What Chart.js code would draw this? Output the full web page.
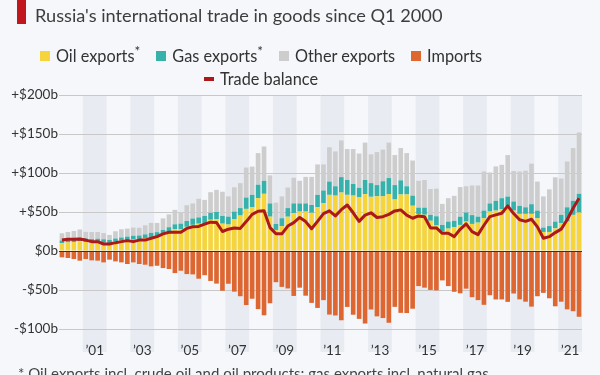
<!DOCTYPE html>
<html lang="en">
<head>
    <meta charset="utf-8">
    <title>Russia's international trade in goods</title>
    <script src="https://cdn.jsdelivr.net/npm/chart.js"></script>
    <style>
        body { margin: 0; background: #f5f7fa; font-family: Lato, "Open Sans", sans-serif; }
        .wrap { position: relative; width: 600px; height: 375px; overflow: hidden; }
        .mark { position: absolute; left: 17px; top: 0; width: 9px; height: 24px; background: #c0161d; }
        .title { position: absolute; left: 35px; top: 4px; font-size: 18.2px; color: #3d3d3d; white-space: nowrap; }
        .legend { position: absolute; left: 0; width: 522px; text-align: center; font-size: 16.3px; color: #333; white-space: nowrap; }
        .legend span { display: inline-block; margin: 0 8px; }
        .legend i { display: inline-block; width: 10px; height: 10px; margin-right: 6px; vertical-align: 1px; }
        .note { position: absolute; left: 18px; top: 364px; font-size: 15px; color: #444; white-space: nowrap; }
        canvas { position: absolute; left: 0; top: 0; }
    </style>
</head>
<body>
    <div class="wrap">
        <canvas id="tradeChart" width="600" height="375"></canvas>
        <div class="mark"></div>
        <div class="title">Russia's international trade in goods since Q1 2000</div>
        <div class="legend" id="legend1" style="top:43px"></div>
        <div class="legend" id="legend2" style="top:69px"></div>
        <div class="note">* Oil exports incl. crude oil and oil products; gas exports incl. natural gas</div>
    </div>

    <script>
        // quarterly values in billion US$, Q1 2000 - Q4 2021
        const years = [2000, 2001, 2002, 2003, 2004, 2005, 2006, 2007, 2008, 2009, 2010,
                       2011, 2012, 2013, 2014, 2015, 2016, 2017, 2018, 2019, 2020, 2021];
        const quarters = ['Q1', 'Q2', 'Q3', 'Q4'];
        const yearTicks = ['\u201901', '\u201903', '\u201905', '\u201907', '\u201909', '\u201911',
                           '\u201913', '\u201915', '\u201917', '\u201919', '\u201921'];

        const oilExports = [
            10, 11, 11.5, 12.5,   11.5, 11, 11.5, 10.5,   10, 12.5, 13.5, 14,   14.5, 15, 16.5, 18,
            19, 22, 25, 28,       28, 31, 33.5, 35,       35, 40, 41, 35,       34, 41, 45.5, 54,
            56, 67.7, 73.3, 44,   27, 32, 44, 48.4,       50.5, 50.5, 49, 56,   61.5, 72, 71, 75,
            72, 71, 68.7, 73,     69.5, 70.3, 70.3, 73,   66, 72.4, 72.5, 58,   47.5, 46.5, 38.8, 32.7,
            24.8, 28.7, 30.4, 33.4, 37.7, 34.7, 36.4, 42, 50.5, 51.8, 53.6, 57, 51.8, 47.6, 47.6, 47.6,
            42, 24.4, 24.4, 29,   35.6, 37.7, 46.3, 49.3
        ];
        const gasExports = [
            3.5, 3.8, 4, 4.5,     4.5, 4.3, 4.2, 4.5,     4.2, 3.5, 3.8, 4.5,   5, 4.8, 4.8, 5.2,
            5.2, 5, 5.5, 6.2,     7, 7.5, 8.1, 8,         10, 9, 9, 10,         10, 9.5, 9.5, 14.5,
            16, 17.3, 16.7, 17,   7.7, 10, 11, 12.6,      10.5, 10.5, 10, 16,   16, 17, 12, 19.7,
            19, 15, 12.3, 18,     17.5, 14.2, 19.1, 20.5, 18.5, 18.2, 10.5, 13, 8, 9, 7.5, 11.8,
            8.6, 9, 8.2, 10.6,    11.6, 11.3, 7.6, 9.8,   10.5, 12.5, 14.1, 12.8, 11.6, 10.2, 8.4, 12.4,
            9.8, 5.6, 7.6, 8.7,   10.7, 18.3, 18, 24
        ];
        const otherExports = [
            9.2, 9.6, 10.2, 10.6, 8.6, 9.1, 8.7, 8,       6.4, 9.3, 10.6, 10.2, 10.5, 10, 11.7, 12.8,
            11.8, 14.8, 16.5, 18.5, 15, 20.2, 19.4, 24,   20.5, 26.4, 28.4, 31, 26, 31.1, 32, 38.5,
            36.2, 40.5, 44, 36,   27.3, 28, 26.4, 33,     29, 34, 36, 39,       33.5, 44, 44.7, 47.1,
            39.7, 44.7, 44, 48,   37, 42.3, 40.6, 45.5,   38.5, 41.4, 42.5, 45, 34.5, 35.5, 33.2, 35.5,
            27, 30, 32.1, 38,     33.7, 38, 40, 50.2,     39.7, 44.1, 42.8, 53.2, 39.1, 44.2, 47, 52,
            37.2, 40, 47, 56.8,   46.7, 58.8, 67.7, 78.7
        ];
        const imports = [
            -8.1, -9, -10.3, -12.4,   -10.3, -12, -12.4, -14.6,   -11.1, -13.3, -14.6, -16.7,
            -14.6, -16.7, -17.6, -19.7, -18.9, -21.9, -23.1, -28.3, -25.3, -29.6, -30, -35.5,
            -31, -38.4, -41.8, -51,   -42, -52.1, -58, -69.3,     -61.2, -74.5, -82.4, -67,
            -40, -46, -48, -57.6,     -47, -57.3, -66.5, -73,     -63, -81.5, -82.7, -88.8,
            -71.7, -81.7, -87, -93,   -75, -83.8, -86, -92,       -71.6, -79.3, -79.5, -74,
            -45, -47, -49.9, -50.5,   -37.7, -45, -52.3, -54.2,   -48.3, -59.2, -63, -69,
            -56.7, -62.1, -62.1, -65.2, -54.5, -62, -65, -71.3,   -58, -53.7, -60.6, -70.9,
            -65, -74.8, -77.2, -84.3
        ];
        const tradeBalance = [
            14, 15, 15, 15.4,     14, 12, 12, 9,          9, 10.7, 12, 13.3,    12, 14, 14, 16.3,
            18.4, 21.9, 24, 24,   24, 29, 31, 31.5,       34.5, 37, 36.6, 25,   28, 29.5, 29, 37.7,
            47, 51, 51.6, 30,     22, 22, 32, 36.4,       43, 37.7, 28.5, 38,   48, 51.5, 45, 53,
            59, 49, 38, 46,       49, 43, 44, 47,         51.4, 52.7, 46, 42,   45, 44, 29.6, 29.5,
            22.7, 22.7, 18.4, 27.8, 34.7, 24.8, 21, 33,   44, 46.3, 48.4, 57.8, 48, 40, 38, 40.7,
            31, 16.3, 18.4, 23.6, 28, 40, 54.8, 67.7
        ];

        const categories = years.flatMap(y => quarters.map(q => q + ' ' + y));

        const colors = {
            oil: '#f5d53b',
            gas: '#36b2ab',
            other: '#cdcdcd',
            imports: '#dd6631',
            balance: '#ad1818'
        };

        // legend (html)
        const legendRows = [
            [['Oil exports<sup>*</sup>', colors.oil, 'box'], ['Gas exports<sup>*</sup>', colors.gas, 'box'],
             ['Other exports', colors.other, 'box'], ['Imports', colors.imports, 'box']],
            [['Trade balance', colors.balance, 'line']]
        ];
        legendRows.forEach((row, r) => {
            document.getElementById('legend' + (r + 1)).innerHTML = row.map(([t, c, k]) =>
                `<span><i style="background:${c};${k === 'line' ? 'height:4px;vertical-align:4px;' : ''}"></i>${t}</span>`
            ).join('');
        });

        const yearBands = {
            id: 'yearBands',
            beforeDraw(chart) {
                const { ctx, chartArea, scales: { x } } = chart;
                const slot = x.width / categories.length;
                ctx.save();
                ctx.fillStyle = '#e8ecf2';
                years.forEach((y, k) => {
                    if (y % 2 === 0) return;
                    const x0 = x.getPixelForValue(k * 4) - slot / 2;
                    const x1 = x.getPixelForValue(k * 4 + 3) + slot / 2;
                    ctx.fillRect(x0, chartArea.top, x1 - x0, 352 - chartArea.top);
                });
                ctx.restore();
            },
            afterDatasetsDraw(chart) {
                const { ctx, chartArea, scales: { y } } = chart;
                const y0 = Math.round(y.getPixelForValue(0)) + 0.5;
                ctx.save();
                ctx.strokeStyle = '#333';
                ctx.lineWidth = 1;
                ctx.beginPath();
                ctx.moveTo(chartArea.left, y0);
                ctx.lineTo(chartArea.right, y0);
                ctx.stroke();
                ctx.restore();
            }
        };

        const barOpts = { barPercentage: 0.78, categoryPercentage: 1, stack: 'trade', order: 1 };

        new Chart(document.getElementById('tradeChart'), {
            type: 'bar',
            data: {
                labels: categories,
                datasets: [
                    { label: 'Oil exports*', data: oilExports, backgroundColor: colors.oil, ...barOpts },
                    { label: 'Gas exports*', data: gasExports, backgroundColor: colors.gas, ...barOpts },
                    { label: 'Other exports', data: otherExports, backgroundColor: colors.other, ...barOpts },
                    { label: 'Imports', data: imports, backgroundColor: colors.imports, ...barOpts },
                    {
                        type: 'line', label: 'Trade balance', data: tradeBalance, stack: 'balance', order: 0,
                        borderColor: colors.balance, borderWidth: 3, pointRadius: 0, tension: 0,
                        borderJoinStyle: 'round', fill: false
                    }
                ]
            },
            options: {
                responsive: false,
                animation: false,
                layout: { padding: { left: 0, right: 18, top: 95, bottom: 0 } },
                plugins: { legend: { display: false }, tooltip: { enabled: false } },
                scales: {
                    x: {
                        stacked: true,
                        grid: { display: false },
                        border: { display: false },
                        afterFit: s => { s.height = 46; },
                        ticks: {
                            autoSkip: false,
                            maxRotation: 0,
                            padding: 6,
                            labelOffset: 3,
                            color: '#333',
                            font: { family: 'Lato', size: 13.5 },
                            callback: (v, i) => {
                                const k = Math.floor(i / 4);
                                return (i % 4 === 1 && years[k] % 2 === 1) ? yearTicks[(k - 1) / 2] : '';
                            }
                        }
                    },
                    y: {
                        stacked: true,
                        min: -100,
                        max: 200,
                        afterFit: s => { s.width = 59; },
                        border: { display: false },
                        grid: { color: '#c8c8c8', drawTicks: false },
                        ticks: {
                            stepSize: 50,
                            padding: 1,
                            color: '#333',
                            font: { family: 'Lato', size: 13.5 },
                            callback: v => v > 0 ? '+$' + v + 'b' : (v < 0 ? '-$' + (-v) + 'b' : '$0b')
                        }
                    }
                }
            },
            plugins: [yearBands]
        });
    </script>
</body>
</html>
